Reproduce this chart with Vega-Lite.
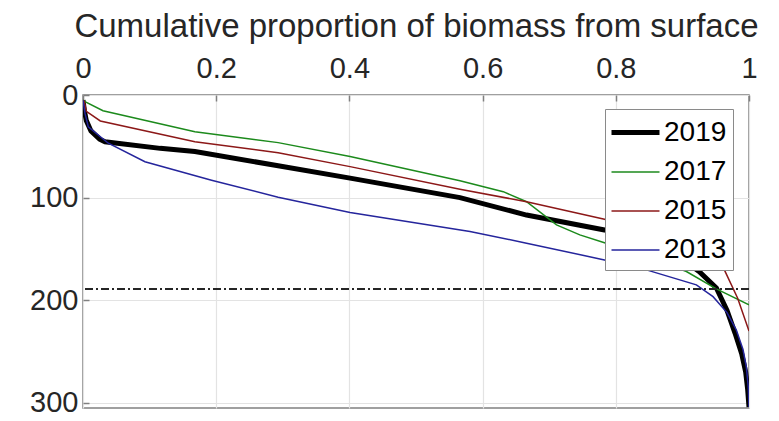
{
  "$schema": "https://vega.github.io/schema/vega-lite/v6.json",
  "width": 666,
  "height": 313,
  "autosize": {"type": "none"},
  "padding": {"left": 83, "top": 95, "right": 30, "bottom": 13},
  "background": "white",
  "config": {
    "font": "Liberation Sans",
    "view": {"stroke": "#808080", "strokeWidth": 1.5},
    "axis": {
      "labelFont": "Liberation Sans",
      "titleFont": "Liberation Sans",
      "labelColor": "#262626",
      "titleColor": "#262626",
      "labelFontSize": 29,
      "titleFontSize": 33,
      "titleFontWeight": "normal",
      "gridColor": "#e3e3e3",
      "gridWidth": 1.2,
      "domain": false,
      "ticks": true,
      "tickSize": -6,
      "tickColor": "#808080",
      "tickWidth": 1.5
    }
  },
  "data": {
    "values": [
      {"year": "2019", "p": 0.0, "depth": 5},
      {"year": "2019", "p": 0.002, "depth": 15},
      {"year": "2019", "p": 0.005, "depth": 25},
      {"year": "2019", "p": 0.012, "depth": 35},
      {"year": "2019", "p": 0.025, "depth": 43},
      {"year": "2019", "p": 0.033, "depth": 45.5},
      {"year": "2019", "p": 0.116, "depth": 52},
      {"year": "2019", "p": 0.168, "depth": 55},
      {"year": "2019", "p": 0.293, "depth": 69},
      {"year": "2019", "p": 0.401, "depth": 81},
      {"year": "2019", "p": 0.566, "depth": 100},
      {"year": "2019", "p": 0.666, "depth": 117},
      {"year": "2019", "p": 0.783, "depth": 131.5},
      {"year": "2019", "p": 0.86, "depth": 148},
      {"year": "2019", "p": 0.9, "depth": 160},
      {"year": "2019", "p": 0.925, "depth": 172},
      {"year": "2019", "p": 0.951, "depth": 188},
      {"year": "2019", "p": 0.967, "depth": 210},
      {"year": "2019", "p": 0.979, "depth": 232},
      {"year": "2019", "p": 0.989, "depth": 252},
      {"year": "2019", "p": 0.995, "depth": 270},
      {"year": "2019", "p": 0.998, "depth": 287},
      {"year": "2019", "p": 1.0, "depth": 304},
      {"year": "2017", "p": 0.0, "depth": 5},
      {"year": "2017", "p": 0.003, "depth": 6.5},
      {"year": "2017", "p": 0.03, "depth": 15.3},
      {"year": "2017", "p": 0.168, "depth": 35.7},
      {"year": "2017", "p": 0.293, "depth": 46.4},
      {"year": "2017", "p": 0.401, "depth": 60},
      {"year": "2017", "p": 0.566, "depth": 83.5},
      {"year": "2017", "p": 0.631, "depth": 94.2},
      {"year": "2017", "p": 0.666, "depth": 104},
      {"year": "2017", "p": 0.711, "depth": 126.6},
      {"year": "2017", "p": 0.746, "depth": 136.3},
      {"year": "2017", "p": 0.783, "depth": 144},
      {"year": "2017", "p": 0.85, "depth": 158},
      {"year": "2017", "p": 0.906, "depth": 172},
      {"year": "2017", "p": 0.951, "depth": 189},
      {"year": "2017", "p": 1.0, "depth": 204.5},
      {"year": "2015", "p": 0.0, "depth": 5},
      {"year": "2015", "p": 0.002, "depth": 6.5},
      {"year": "2015", "p": 0.005, "depth": 16},
      {"year": "2015", "p": 0.026, "depth": 25.3},
      {"year": "2015", "p": 0.168, "depth": 45.5},
      {"year": "2015", "p": 0.293, "depth": 56.3},
      {"year": "2015", "p": 0.401, "depth": 69.8},
      {"year": "2015", "p": 0.566, "depth": 91.8},
      {"year": "2015", "p": 0.666, "depth": 104},
      {"year": "2015", "p": 0.783, "depth": 121},
      {"year": "2015", "p": 0.87, "depth": 140},
      {"year": "2015", "p": 0.93, "depth": 157},
      {"year": "2015", "p": 0.963, "depth": 170.4},
      {"year": "2015", "p": 0.983, "depth": 198},
      {"year": "2015", "p": 1.0, "depth": 230},
      {"year": "2013", "p": 0.0, "depth": 5},
      {"year": "2013", "p": 0.003, "depth": 18},
      {"year": "2013", "p": 0.008, "depth": 31},
      {"year": "2013", "p": 0.038, "depth": 47},
      {"year": "2013", "p": 0.093, "depth": 65},
      {"year": "2013", "p": 0.193, "depth": 83},
      {"year": "2013", "p": 0.293, "depth": 99.6},
      {"year": "2013", "p": 0.401, "depth": 114.6},
      {"year": "2013", "p": 0.581, "depth": 133},
      {"year": "2013", "p": 0.666, "depth": 144.4},
      {"year": "2013", "p": 0.783, "depth": 160.7},
      {"year": "2013", "p": 0.846, "depth": 170.4},
      {"year": "2013", "p": 0.921, "depth": 185},
      {"year": "2013", "p": 0.946, "depth": 196.5},
      {"year": "2013", "p": 0.967, "depth": 212},
      {"year": "2013", "p": 0.981, "depth": 229},
      {"year": "2013", "p": 0.991, "depth": 248},
      {"year": "2013", "p": 0.996, "depth": 265},
      {"year": "2013", "p": 0.999, "depth": 285},
      {"year": "2013", "p": 1.0, "depth": 304}
    ]
  },
  "layer": [
    {
      "mark": {"type": "line", "clip": true},
      "encoding": {
        "x": {
          "field": "p",
          "type": "quantitative",
          "scale": {"domain": [0, 1], "nice": false},
          "axis": {
            "orient": "top",
            "title": "Cumulative proportion of biomass from surface",
            "values": [0, 0.2, 0.4, 0.6, 0.8, 1],
            "format": "~g",
            "labelPadding": 18,
            "titlePadding": 11,
            "labelFlush": false,
            "labelOverlap": false
          }
        },
        "y": {
          "field": "depth",
          "type": "quantitative",
          "scale": {"domain": [0, 305], "reverse": true, "nice": false, "zero": false},
          "axis": {
            "title": null,
            "values": [0, 100, 200, 300],
            "labelPadding": 11,
            "labelFlush": false,
            "labelOverlap": false
          }
        },
        "order": {"field": "depth", "type": "quantitative"},
        "color": {
          "field": "year",
          "type": "nominal",
          "scale": {"domain": ["2019", "2017", "2015", "2013"], "range": ["#000000", "#1c8a1c", "#8c1818", "#25259c"]},
          "legend": {
            "title": null,
            "orient": "none",
            "legendX": 522,
            "legendY": 14,
            "symbolType": "M-1.6,0H1.6",
            "symbolSize": 900,
            "symbolOffset": 7,
            "labelFontSize": 28,
            "labelFont": "Liberation Sans",
            "labelColor": "#000000",
            "labelOffset": 11,
            "rowPadding": 9,
            "padding": 6,
            "strokeColor": "#8a8a8a",
            "fillColor": "white"
          }
        },
        "strokeWidth": {
          "field": "year",
          "type": "nominal",
          "scale": {"type": "ordinal", "domain": ["2019", "2017", "2015", "2013"], "range": [5, 1.5, 1.5, 1.5]},
          "legend": {
            "title": null
          }
        }
      }
    },
    {
      "mark": {"type": "rule", "color": "#262626", "strokeWidth": 1.5, "strokeDash": [8, 3, 2, 3]},
      "encoding": {"y": {"datum": 189}}
    }
  ]
}
